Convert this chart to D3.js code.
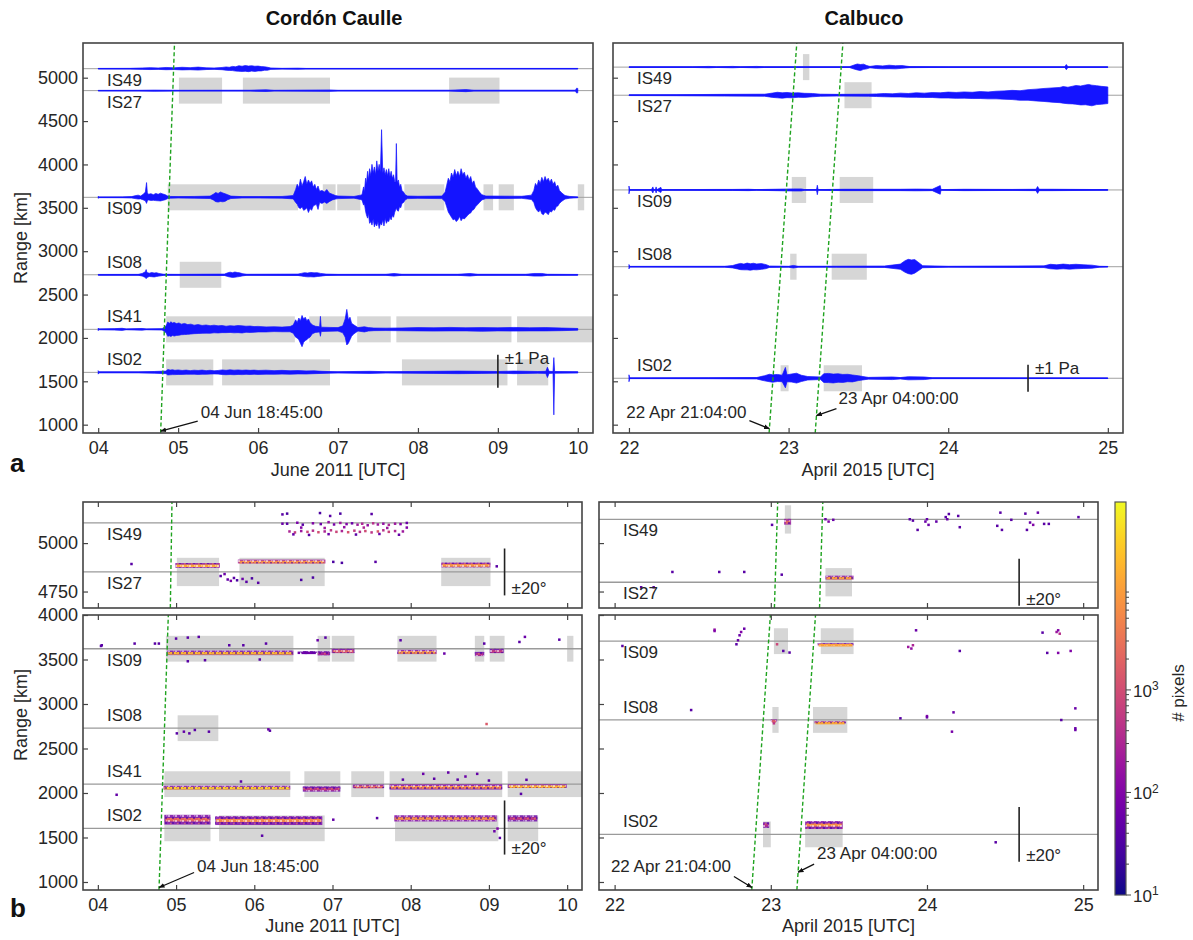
<!DOCTYPE html>
<html><head><meta charset="utf-8">
<script src="https://cdn.jsdelivr.net/npm/d3@7"></script>
<style>
html,body{margin:0;padding:0;background:#fff;}
svg text{font-family:"Liberation Sans",Arial,Helvetica,sans-serif;}
</style></head>
<body><svg id="fig" width="1193" height="940"></svg>
<script>
// ================= DATA =================
const caulleStations=["IS49","IS27","IS09","IS08","IS41","IS02"];
const caulleRanges=[5104,4851,3621,2728,2099,1603];
const calbucoStations=["IS49","IS27","IS09","IS08","IS02"];
const calbucoRanges=[5122,4798,3706,2821,1535];
const caulleDays=[4,5,6,7,8,9,10];
const calbucoDays=[22,23,24,25];
const caulleDomain=[3.81,10.19];
const calbucoDomain=[21.9,25.095];
const rangeTicksA=[1000,1500,2000,2500,3000,3500,4000,4500,5000];
const rangeTicksBUpper=[4750,5000];
const rangeTicksBLower=[1000,1500,2000,2500,3000,3500,4000];
const aRangeDomain=[904,5400];
const bUpperDomain=[4665,5212];
const bLowerDomain=[910,4000];
const caulleOnsets=[4.78125];            // 04 Jun 18:45:00
const calbucoOnsets=[22.87778,23.16667]; // 22 Apr 21:04:00, 23 Apr 04:00:00
const celerityKmS=0.30;
const cbarDomain=[10,68000];
const cbarLabels=[10,100,1000];

// analysis windows [station, start day, end day]
const caulleWindows=[
 ["IS27",5.01,5.55],["IS27",5.81,6.90],["IS27",8.39,9.02],
 ["IS09",4.87,6.50],["IS09",6.81,6.97],["IS09",6.99,7.28],["IS09",7.83,8.33],["IS09",8.82,8.94],["IS09",9.01,9.20],["IS09",10.0,10.08],
 ["IS08",5.02,5.54],
 ["IS41",4.85,6.46],["IS41",6.64,7.10],["IS41",7.24,7.66],["IS41",7.73,9.17],["IS41",9.24,10.25],
 ["IS02",4.85,5.44],["IS02",5.55,6.90],["IS02",7.80,9.12],["IS02",9.24,9.63]];
const calbucoWindows=[
 ["IS49",23.09,23.13],["IS27",23.35,23.52],
 ["IS09",23.02,23.11],["IS09",23.32,23.53],
 ["IS08",23.01,23.05],["IS08",23.27,23.49],
 ["IS02",22.95,23.00],["IS02",23.22,23.46]];

// waveform envelopes [day, up(km), down(km)]
const waveC_IS49=[[4.0,3,3],[4.4,4,4],[4.55,8,8],[4.65,12,10],[4.75,8,8],[4.85,14,12],[4.95,10,10],[5.05,16,14],[5.15,12,12],[5.25,18,16],[5.35,10,10],[5.45,8,8],[5.55,14,12],[5.6,20,18],[5.64,16,20],[5.68,26,22],[5.72,22,28],[5.76,34,30],[5.8,28,32],[5.84,36,30],[5.88,30,34],[5.92,34,28],[5.96,28,32],[6.0,30,26],[6.04,24,26],[6.08,22,18],[6.12,16,18],[6.16,8,8],[6.3,4,4],[6.5,6,6],[6.6,3,3],[8.5,3,3],[10.0,3,3]];
const waveC_IS27=[[4.0,3,3],[4.5,4,4],[4.7,6,6],[5.0,4,4],[5.9,5,5],[6.1,10,10],[6.2,4,4],[6.9,8,8],[7.0,4,4],[8.4,5,5],[8.6,12,12],[8.7,5,5],[9.97,5,5],[9.985,28,28],[10.0,25,25]];
const waveC_IS09=[[4.0,12,12],[4.01,4,4],[4.3,5,5],[4.42,8,8],[4.46,18,14],[4.5,25,20],[4.53,15,18],[4.56,32,28],[4.59,60,40],[4.605,170,70],[4.615,50,40],[4.63,35,30],[4.66,42,36],[4.69,30,34],[4.72,45,38],[4.75,35,40],[4.78,48,42],[4.81,38,35],[4.84,30,28],[4.87,15,14],[4.9,10,10],[5.0,8,8],[5.2,10,10],[5.4,14,14],[5.44,35,30],[5.47,55,50],[5.5,45,55],[5.53,62,48],[5.56,50,52],[5.59,40,45],[5.62,30,28],[5.66,14,14],[5.8,8,8],[6.0,8,8],[6.3,10,10],[6.44,20,18],[6.47,90,60],[6.49,150,80],[6.51,110,120],[6.53,210,130],[6.55,130,110],[6.57,180,150],[6.59,240,140],[6.61,150,120],[6.63,200,175],[6.65,160,130],[6.67,190,150],[6.69,120,100],[6.71,150,90],[6.73,90,80],[6.75,130,140],[6.77,70,60],[6.8,80,70],[6.83,60,55],[6.86,90,70],[6.89,50,50],[6.93,35,30],[6.97,20,20],[7.0,15,15],[7.2,10,10],[7.28,25,25],
 [7.30,30,30],[7.32,120,90],[7.33,60,70],[7.345,220,160],[7.355,150,200],[7.37,300,240],[7.38,200,180],[7.395,330,300],[7.41,250,280],[7.425,380,320],[7.44,280,250],[7.455,350,340],[7.47,260,300],[7.485,420,330],[7.50,300,280],[7.515,380,360],[7.53,290,300],[7.545,780,320],[7.56,280,260],[7.575,340,330],[7.59,260,240],[7.605,320,300],[7.62,250,270],[7.635,330,280],[7.65,240,230],[7.665,300,260],[7.68,220,210],[7.695,260,230],[7.71,180,170],[7.72,180,150],[7.73,620,120],[7.74,170,150],[7.755,200,160],[7.77,120,110],[7.785,150,120],[7.80,80,70],[7.82,60,60],[7.84,30,30],[7.87,15,15],
 [8.0,12,12],[8.3,15,15],[8.34,60,50],[8.36,140,110],[8.38,220,170],[8.40,180,200],[8.42,280,230],[8.44,230,260],[8.46,320,250],[8.48,250,280],[8.50,300,260],[8.52,240,220],[8.54,330,270],[8.56,260,240],[8.58,290,250],[8.60,220,230],[8.62,260,210],[8.64,200,190],[8.66,240,180],[8.68,160,150],[8.70,190,140],[8.72,120,110],[8.74,100,90],[8.77,60,60],[8.8,30,30],[8.85,15,15],
 [9.3,12,12],[9.42,25,25],[9.45,80,60],[9.47,160,120],[9.49,130,150],[9.51,200,170],[9.53,160,140],[9.55,230,190],[9.57,180,200],[9.59,240,170],[9.61,190,180],[9.63,220,200],[9.65,170,160],[9.67,210,170],[9.69,150,140],[9.71,180,150],[9.73,120,110],[9.75,140,100],[9.77,80,70],[9.8,50,45],[9.84,20,20],[9.9,10,10],[10.0,5,5]];
const waveC_IS08=[[4.0,4,4],[4.5,5,5],[4.55,15,15],[4.59,35,30],[4.6,60,45],[4.61,25,30],[4.64,18,20],[4.67,26,22],[4.7,20,25],[4.73,24,20],[4.76,15,15],[4.82,6,6],[5.0,5,5],[5.58,8,8],[5.62,22,20],[5.65,30,26],[5.68,24,30],[5.71,32,28],[5.74,26,24],[5.77,22,20],[5.81,12,12],[5.86,6,6],[6.5,8,8],[6.54,16,14],[6.58,24,20],[6.62,20,24],[6.66,27,23],[6.7,22,25],[6.74,24,20],[6.78,16,16],[6.85,8,8],[7.0,5,5],[7.6,6,6],[7.7,15,15],[7.8,6,6],[8.5,6,6],[8.65,15,15],[8.75,6,6],[9.35,6,6],[9.45,15,15],[9.55,15,15],[9.62,6,6],[10.0,4,4]];
const waveC_IS41=[[4.0,15,15],[4.01,5,5],[4.2,8,8],[4.3,12,12],[4.35,5,5],[4.55,10,10],[4.6,5,5],[4.8,8,8],[4.85,40,40],[4.87,85,80],[4.89,70,75],[4.91,88,82],[4.93,72,70],[4.95,80,78],[4.98,66,70],[5.01,74,68],[5.04,60,62],[5.08,68,60],[5.12,55,58],[5.16,60,54],[5.2,48,50],[5.25,55,48],[5.3,45,46],[5.35,50,44],[5.4,42,45],[5.45,48,40],[5.5,40,42],[5.55,44,38],[5.6,36,38],[5.65,42,36],[5.7,38,40],[5.75,44,38],[5.8,40,42],[5.85,36,34],[5.9,38,36],[5.95,32,34],[6.0,34,30],[6.1,28,30],[6.2,30,26],[6.3,26,28],[6.4,32,28],[6.44,50,45],[6.47,110,90],[6.49,80,100],[6.51,130,120],[6.53,100,160],[6.55,160,200],[6.57,120,150],[6.59,140,130],[6.61,100,120],[6.63,120,100],[6.65,80,90],[6.68,50,50],[6.72,35,35],[6.77,30,30],[6.78,150,80],[6.79,25,25],[6.9,22,22],[7.0,20,20],[7.06,40,40],[7.09,120,90],[7.11,230,180],[7.13,110,160],[7.15,140,120],[7.17,70,80],[7.2,50,50],[7.25,20,20],[7.33,30,30],[7.38,20,20],[7.45,15,15],[7.6,14,14],[7.8,16,16],[8.0,20,18],[8.2,18,20],[8.4,22,18],[8.6,18,18],[8.8,20,22],[9.0,18,18],[9.2,22,20],[9.4,18,18],[9.6,20,18],[9.8,15,15],[10.0,10,10]];
const waveC_IS02=[[4.0,20,20],[4.01,6,6],[4.5,6,6],[4.7,10,10],[4.85,15,15],[4.87,34,30],[4.9,26,28],[4.93,30,26],[4.96,24,26],[5.0,28,24],[5.05,22,24],[5.1,26,22],[5.15,20,22],[5.2,25,21],[5.25,22,24],[5.3,26,22],[5.35,20,22],[5.4,24,20],[5.45,18,18],[5.5,22,20],[5.55,28,25],[5.6,24,27],[5.65,29,25],[5.7,25,27],[5.75,28,24],[5.8,24,26],[5.85,27,23],[5.9,23,25],[5.95,26,22],[6.0,22,24],[6.1,25,21],[6.2,20,22],[6.3,23,20],[6.4,19,21],[6.5,21,18],[6.6,17,19],[6.7,18,15],[6.8,12,12],[6.9,9,9],[7.0,8,8],[7.4,12,12],[7.6,8,8],[7.9,10,10],[8.2,12,12],[8.5,15,15],[8.8,12,12],[9.0,10,10],[9.2,15,15],[9.5,10,10],[9.6,12,12],[9.62,60,60],[9.64,12,12],[9.69,10,10],[9.7,170,490],[9.71,10,10],[10.0,8,8]];
const waveK_IS49=[[22.0,3,3],[22.4,4,4],[22.5,8,8],[22.55,4,4],[22.65,8,8],[22.7,4,4],[22.8,8,8],[22.85,4,4],[23.38,4,4],[23.41,24,22],[23.43,36,32],[23.45,30,40],[23.47,34,26],[23.49,18,20],[23.51,8,8],[23.55,18,16],[23.59,14,20],[23.63,22,18],[23.67,16,20],[23.71,18,14],[23.76,6,6],[24.0,3,3],[24.73,3,3],[24.74,30,30],[24.75,3,3],[25.0,3,3]];
const waveK_IS27=[[22.0,4,4],[22.3,6,6],[22.6,10,10],[22.85,12,12],[22.9,25,25],[22.93,34,30],[22.96,28,34],[22.99,32,28],[23.02,26,30],[23.06,28,24],[23.1,22,25],[23.15,20,18],[23.2,12,12],[23.3,10,10],[23.5,12,12],[23.55,15,15],[23.6,20,18],[23.65,16,20],[23.7,24,20],[23.75,20,24],[23.8,28,24],[23.85,24,26],[23.9,30,26],[23.95,28,32],[24.0,36,32],[24.05,32,36],[24.1,38,34],[24.15,34,38],[24.2,42,38],[24.25,38,42],[24.3,46,42],[24.35,50,46],[24.4,56,50],[24.45,52,58],[24.5,64,58],[24.55,70,66],[24.6,78,72],[24.65,84,80],[24.7,90,86],[24.72,100,92],[24.75,92,98],[24.78,104,100],[24.8,112,104],[24.83,106,112],[24.86,118,110],[24.88,124,116],[24.9,116,122],[24.93,110,108],[24.96,102,104],[25.0,96,96]];
const waveK_IS09=[[22.0,45,45],[22.005,3,3],[22.14,3,3],[22.15,35,35],[22.155,3,3],[22.165,3,3],[22.17,35,35],[22.175,3,3],[22.2,30,30],[22.205,3,3],[22.55,6,6],[22.65,6,6],[22.75,8,8],[22.8,4,4],[23.03,12,12],[23.08,12,12],[23.1,4,4],[23.175,4,4],[23.18,55,55],[23.185,4,4],[23.35,8,8],[23.5,8,8],[23.7,8,8],[23.8,10,10],[23.9,8,8],[23.95,50,50],[23.955,4,4],[24.1,8,8],[24.4,6,6],[24.55,8,8],[24.56,40,40],[24.57,8,8],[24.65,8,8],[25.0,4,4]];
const waveK_IS08=[[22.0,25,25],[22.005,4,4],[22.6,5,5],[22.65,14,14],[22.68,30,26],[22.7,38,34],[22.72,30,36],[22.74,42,36],[22.76,34,40],[22.78,40,34],[22.8,32,36],[22.83,36,30],[22.86,24,22],[22.88,8,8],[23.0,5,5],[23.03,15,15],[23.06,5,5],[23.3,6,6],[23.6,8,8],[23.7,30,30],[23.73,70,65],[23.75,85,80],[23.77,78,88],[23.79,82,74],[23.81,55,50],[23.84,12,12],[24.0,5,5],[24.6,10,10],[24.64,28,24],[24.68,22,28],[24.72,30,24],[24.76,24,28],[24.8,28,24],[24.85,22,20],[24.9,18,18],[24.95,5,5],[25.0,3,3]];
const waveK_IS02=[[22.0,40,40],[22.005,4,4],[22.1,4,4],[22.5,5,5],[22.8,8,8],[22.85,30,30],[22.88,46,40],[22.9,40,46],[22.93,44,38],[22.96,36,40],[22.98,125,110],[22.99,40,40],[23.02,50,44],[23.05,58,55],[23.08,35,38],[23.12,20,20],[23.2,15,15],[23.22,52,48],[23.25,56,50],[23.28,48,54],[23.31,52,46],[23.34,44,48],[23.37,46,40],[23.4,38,42],[23.44,28,26],[23.5,10,10],[23.65,15,15],[23.7,8,8],[23.75,18,18],[23.85,15,15],[23.9,5,5],[25.0,3,3]];

// detection bands [start, end, centre range km, half width km, edge count, core count]
const caulleBands=[
 [4.99,5.56,4885,12,120,12000],[5.79,6.91,4905,10,200,6000],[8.39,9.02,4887,12,150,8000],
 [4.886,6.50,3575,26,80,20000],[6.59,6.80,3585,10,40,60],[6.81,6.97,3570,24,60,300],[6.99,7.28,3596,24,80,2000],[7.83,8.33,3585,24,100,8000],[8.82,8.94,3562,24,60,400],[9.01,9.19,3596,24,60,600],
 [4.84,6.46,2060,22,100,30000],[6.62,7.10,2045,30,60,500],[7.26,7.66,2075,20,80,2000],[7.73,9.17,2068,30,100,6000],[9.24,9.996,2078,20,100,15000],
 [4.85,5.44,1700,55,80,2000],[5.50,6.87,1690,50,80,5000],[7.79,9.10,1715,35,100,8000],[9.24,9.62,1715,35,60,600]];
const calbucoBands=[
 [23.085,23.13,5110,15,150,2000],[23.35,23.53,4822,10,100,10000],
 [23.30,23.53,3670,12,100,10000],[23.0,23.04,2815,12,150,1500],[23.28,23.48,2795,12,150,12000],
 [22.95,22.99,1640,30,80,400],[23.22,23.46,1640,45,100,6000]];

// isolated detections [day, range km, # pixels]
const caullePoints=[
 [4.43,4892,40],[5.57,4830,40],[5.62,4840,60],[5.66,4812,50],[5.70,4805,80],[5.74,4820,40],[5.78,4808,30],[5.85,4815,60],[5.90,4800,40],[5.97,4818,30],[6.05,4795,40],[6.60,4810,30],[6.75,4822,30],[7.01,4903,30],[7.12,4898,30],[7.55,4903,40],[9.10,4880,40],
 [6.36,5148,40],[6.42,5152,30],[6.84,5155,30],[6.97,5140,40],[7.10,5152,30],[7.50,5150,40],
 [6.36,5100,60],[6.42,5100,40],[6.55,5105,80],[6.62,5095,40],[6.75,5102,100],[6.85,5098,60],[6.95,5108,150],[7.02,5096,80],[7.10,5104,200],[7.18,5098,100],[7.25,5102,60],[7.32,5095,200],[7.38,5100,300],[7.45,5092,150],[7.52,5102,400],[7.58,5096,200],[7.65,5100,150],[7.72,5094,300],[7.80,5100,200],[7.87,5098,100],[7.95,5104,60],
 [6.45,5060,300],[6.52,5055,600],[6.60,5062,200],[6.68,5058,800],[6.75,5064,400],[6.82,5056,1000],[6.90,5060,300],[6.98,5066,500],[7.05,5058,800],[7.12,5062,300],[7.20,5056,1200],[7.28,5064,600],[7.35,5058,400],[7.42,5062,900],[7.50,5055,500],[7.58,5060,1500],[7.65,5066,400],[7.72,5058,700],[7.80,5062,300],[7.90,5060,200],
 [6.50,5045,50],[6.70,5042,40],[6.95,5046,60],[7.30,5044,40],[7.60,5047,60],[7.85,5043,50],
 [6.60,5080,100],[6.90,5078,200],[7.15,5082,150],[7.40,5080,300],[7.70,5078,200],[7.95,5080,100],
 [4.04,3652,40],[4.05,3660,40],[4.47,3679,40],[4.73,3679,40],[4.78,3679,40],[5.00,3735,40],[5.15,3746,40],[5.29,3754,40],[5.68,3660,40],[5.86,3660,40],[6.15,3679,40],[5.15,3480,40],[5.37,3492,40],[6.07,3500,40],[9.39,3697,40],[9.46,3754,60],[9.90,3723,40],[6.81,3716,60],[6.91,3746,40],[7.87,3716,40],[8.94,3679,40],[8.43,3567,60],[6.57,3575,60],[6.66,3575,60],
 [5.01,2670,40],[5.10,2689,50],[5.17,2670,40],[5.24,2708,40],[5.42,2689,40],[6.18,2715,60],[6.20,2700,40],[8.97,2775,1500],
 [4.24,1980,50],[5.83,2129,40],[8.16,2215,60],[8.48,2230,50],[8.70,2185,60],[8.85,2215,50],[9.48,2148,40],[9.41,1990,40],[7.9,2150,40],[8.3,2160,40],[8.6,2150,40],[9.0,2140,40],
 [7.01,1700,50],[7.57,1718,40],[9.14,1495,40],[6.10,1520,40],[9.11,1600,100],[9.07,1570,60]];
const calbucoPoints=[
 [23.008,5094,40],[23.35,5123,60],[23.37,5111,100],[23.40,5120,60],[23.89,5123,40],[23.91,5116,40],[23.94,5068,40],[23.99,5111,60],[24.0,5123,50],[24.01,5094,60],[24.06,5111,50],[24.12,5134,40],[24.14,5150,40],[24.13,5123,60],[24.20,5140,40],[24.21,5082,40],[24.45,5089,40],[24.47,5157,40],[24.48,5068,40],[24.54,5120,40],[24.63,5152,40],[24.64,5068,40],[24.66,5106,60],[24.68,5094,100],[24.71,5157,60],[24.75,5099,40],[24.78,5099,40],[24.97,5134,40],
 [22.37,4851,40],[22.67,4851,40],[22.83,4851,40],[23.07,4837,40],[22.17,4772,40],[22.25,4772,40],
 [22.64,3835,150],[22.64,3820,100],[22.83,3846,60],[22.81,3809,100],[22.80,3772,60],[22.79,3716,60],[22.78,3671,40],[23.04,3671,800],[23.08,3596,40],[23.12,3578,40],[23.88,3641,200],[23.91,3660,300],[23.90,3623,150],[23.93,3828,60],[24.21,3596,40],[24.74,3802,40],[24.83,3809,200],[24.85,3790,400],[24.84,3828,100],[24.77,3574,40],[24.84,3574,100],[24.92,3596,100],[22.05,3652,40],
 [22.49,2932,40],[23.02,2783,500],[23.83,2839,40],[24.0,2864,100],[24.0,2850,60],[24.17,2906,60],[24.16,2689,80],[24.86,2820,40],[24.95,2951,60],[24.95,2727,60],[24.95,2708,60],
 [24.44,1446,40]];

// ================= DRAWING =================
const svg=d3.select("#fig");
const defs=svg.append("defs");
const FONT='"Liberation Sans", Arial, Helvetica, sans-serif';
const TXT="#262626";
const BLUE="#1414ff";
const kmPerDay=celerityKmS*86400;
const RREF=900;
const onsetT=(t0,r)=>t0+(r-RREF)/kmPerDay;
const cNorm=d3.scaleLog().domain(cbarDomain).range([0,1]).clamp(true);
const cmap=c=>d3.interpolatePlasma(cNorm(c));

defs.append("marker").attr("id","ah").attr("viewBox","0 0 10 10").attr("refX",9).attr("refY",5)
 .attr("markerWidth",6).attr("markerHeight",6).attr("orient","auto").attr("markerUnits","userSpaceOnUse")
 .append("path").attr("d","M0,1L10,5L0,9z").attr("fill","#111");

const sp=defs.append("pattern").attr("id","speck").attr("patternUnits","userSpaceOnUse").attr("width",7).attr("height",5);
[[0,0,2,2,"#ffffff",0.55],[4,2,2,2,"#4b03a1",0.6],[2,3,1.5,1.5,"#f89540",0.5],[5,0,1.5,1.5,"#ffffff",0.4],[1,2,1.2,1.2,"#9c179e",0.5]]
 .forEach(s=>sp.append("rect").attr("x",s[0]).attr("y",s[1]).attr("width",s[2]).attr("height",s[3]).attr("fill",s[4]).attr("opacity",s[5]));

let clipN=0;
function clip(b){const id="clip"+(clipN++);defs.append("clipPath").attr("id",id).append("rect")
 .attr("x",b.x0).attr("y",b.y0).attr("width",b.x1-b.x0).attr("height",b.y1-b.y0);return "url(#"+id+")";}

function axes(g,x,y,b,xTicks,yTicks,opt){
 const fmt2=d3.format("02d");
 g.append("g").attr("transform",`translate(0,${b.y1})`)
  .call(d3.axisBottom(x).tickValues(xTicks).tickSizeInner(-5).tickSizeOuter(0).tickPadding(8).tickFormat(opt.xLabels?fmt2:()=>""));
 if(opt.topTicks) g.append("g").attr("transform",`translate(0,${b.y0})`)
  .call(d3.axisTop(x).tickValues(xTicks).tickSizeInner(-5).tickSizeOuter(0).tickFormat(()=>""));
 g.append("g").attr("transform",`translate(${b.x0},0)`)
  .call(d3.axisLeft(y).tickValues(yTicks).tickSizeInner(-5).tickSizeOuter(0).tickPadding(5).tickFormat(opt.yLabels?d3.format("d"):()=>""));
 g.selectAll(".domain").remove();
 g.selectAll(".tick line").attr("stroke","#444").attr("stroke-width",1.2);
 g.selectAll(".tick text").attr("font-size",18).attr("font-family",FONT).attr("fill",TXT);
 g.append("rect").attr("x",b.x0).attr("y",b.y0).attr("width",b.x1-b.x0).attr("height",b.y1-b.y0)
  .attr("fill","none").attr("stroke","#444").attr("stroke-width",1.6);
}

function stationLabels(g,b,y,stations,ranges){
 const below={IS49:1,IS27:1,IS09:1};
 stations.forEach((s,i)=>{
  const yy=y(ranges[i]);
  if(yy<b.y0-2||yy>b.y1+2) return;
  g.append("text").attr("x",b.x0+24).attr("y",yy+(below[s]?11:-13)).attr("dy","0.35em")
   .attr("font-size",17).attr("fill",TXT).text(s);
 });
}

function annotate(g,tip,tail,txt,anchor,tdx,tdy){
 g.append("line").attr("x1",tail[0]).attr("y1",tail[1]).attr("x2",tip[0]).attr("y2",tip[1])
  .attr("stroke","#111").attr("stroke-width",1.3).attr("marker-end","url(#ah)");
 g.append("text").attr("x",tail[0]+tdx).attr("y",tail[1]+tdy).attr("dy","0.35em").attr("text-anchor",anchor)
  .attr("font-size",17).attr("fill",TXT).text(txt);
}

function scaleBar(g,x,y,bar,label,labelDy){
 const x0=x(bar[0]);
 g.append("line").attr("x1",x0).attr("x2",x0).attr("y1",y(bar[1]+bar[2])).attr("y2",y(bar[1]-bar[2]))
  .attr("stroke","#222").attr("stroke-width",1.6);
 const ty=labelDy>0?y(bar[1]+bar[2])+labelDy:y(bar[1]-bar[2])+labelDy;
 g.append("text").attr("x",x0+7).attr("y",ty).attr("dy","0.35em").attr("font-size",17).attr("fill",TXT).text(label);
}

function drawA(o){
 const b=o.box;
 const x=d3.scaleLinear().domain(o.xDom).range([b.x0,b.x1]);
 const y=d3.scaleLinear().domain(aRangeDomain).range([b.y1,b.y0]);
 const g=svg.append("g");
 const gc=g.append("g").attr("clip-path",clip(b));
 const rOf=s=>o.ranges[o.stations.indexOf(s)];
 gc.selectAll("rect.win").data(o.windows).join("rect")
  .attr("x",d=>x(d[1])).attr("width",d=>x(d[2])-x(d[1]))
  .attr("y",d=>y(rOf(d[0])+150)).attr("height",d=>y(rOf(d[0])-150)-y(rOf(d[0])+150))
  .attr("fill","#d6d6d6");
 gc.selectAll("line.st").data(o.ranges).join("line")
  .attr("x1",b.x0).attr("x2",b.x1).attr("y1",d=>y(d)).attr("y2",d=>y(d))
  .attr("stroke","#a0a0a0").attr("stroke-width",1);
 o.waves.forEach((w,i)=>{
  const r=o.ranges[i];
  const area=d3.area().x(d=>x(d[0])).y0(d=>y(r-d[2])).y1(d=>y(r+d[1]));
  gc.append("path").attr("d",area(w)).attr("fill",BLUE).attr("stroke",BLUE).attr("stroke-width",0.7);
  gc.append("line").attr("x1",x(w[0][0])).attr("x2",x(w[w.length-1][0])).attr("y1",y(r)).attr("y2",y(r))
   .attr("stroke",BLUE).attr("stroke-width",1.3);
 });
 const ln=d3.line().x(d=>x(d[0])).y(d=>y(d[1]));
 o.onsets.forEach(t0=>{
  gc.append("path").attr("d",ln(aRangeDomain.map(r=>[onsetT(t0,r),r])))
   .attr("fill","none").attr("stroke","#1fa31f").attr("stroke-width",1.4).attr("stroke-dasharray","4,2.5");
 });
 axes(g,x,y,b,o.ticks,rangeTicksA,{xLabels:true,yLabels:o.yLabels,topTicks:false});
 stationLabels(g,b,y,o.stations,o.ranges);
 scaleBar(g,x,y,o.bar,"±1 Pa",3);
 o.annots.forEach(a=>{
  const tip=[x(onsetT(a.t0,a.r)),y(a.r)];
  annotate(g,tip,[tip[0]+a.tail[0],tip[1]+a.tail[1]],a.text,a.anchor,a.tdx,a.tdy);
 });
 g.append("text").attr("x",(b.x0+b.x1)/2).attr("y",b.y1+37).attr("dy","0.35em").attr("text-anchor","middle")
  .attr("font-size",18).attr("fill",TXT).text(o.xlabel);
 g.append("text").attr("x",(b.x0+b.x1)/2-4).attr("y",18).attr("dy","0.35em").attr("text-anchor","middle")
  .attr("font-size",20).attr("font-weight","bold").attr("fill","#111").text(o.title);
}

function drawB(o){
 const subs=[
  {b:{x0:o.x0,x1:o.x1,y0:502,y1:608},dom:bUpperDomain,ticks:rangeTicksBUpper,half:73},
  {b:{x0:o.x0,x1:o.x1,y0:615,y1:890},dom:bLowerDomain,ticks:rangeTicksBLower,half:145}];
 const x=d3.scaleLinear().domain(o.xDom).range([o.x0,o.x1]);
 const rOf=s=>o.ranges[o.stations.indexOf(s)];
 const g=svg.append("g");
 subs.forEach((S,k)=>{
  const b=S.b;
  const y=d3.scaleLinear().domain(S.dom).range([b.y1,b.y0]);
  S.y=y;
  const gc=g.append("g").attr("clip-path",clip(b));
  gc.selectAll("rect.win").data(o.windows).join("rect")
   .attr("x",d=>x(d[1])).attr("width",d=>x(d[2])-x(d[1]))
   .attr("y",d=>y(rOf(d[0])+S.half)).attr("height",d=>y(rOf(d[0])-S.half)-y(rOf(d[0])+S.half))
   .attr("fill","#d6d6d6");
  gc.selectAll("line.st").data(o.ranges).join("line")
   .attr("x1",b.x0).attr("x2",b.x1).attr("y1",d=>y(d)).attr("y2",d=>y(d))
   .attr("stroke","#9a9a9a").attr("stroke-width",1.3);
  gc.selectAll("rect.band").data(o.bands).join("rect")
   .attr("x",d=>x(d[0])).attr("width",d=>x(d[1])-x(d[0]))
   .attr("y",d=>y(d[2]+d[3])).attr("height",d=>y(d[2]-d[3])-y(d[2]+d[3]))
   .attr("fill",d=>cmap(d[4])).attr("opacity",0.8);
  gc.selectAll("rect.core").data(o.bands).join("rect")
   .attr("x",d=>x(d[0])+1).attr("width",d=>Math.max(1,x(d[1])-x(d[0])-2))
   .attr("y",d=>y(d[2]+d[3]*0.35)).attr("height",d=>Math.max(2.5,y(d[2]-d[3]*0.35)-y(d[2]+d[3]*0.35)))
   .attr("fill",d=>cmap(d[5]));
  gc.selectAll("rect.tex").data(o.bands).join("rect")
   .attr("x",d=>x(d[0])).attr("width",d=>x(d[1])-x(d[0]))
   .attr("y",d=>y(d[2]+d[3])).attr("height",d=>y(d[2]-d[3])-y(d[2]+d[3]))
   .attr("fill","url(#speck)");
  gc.selectAll("rect.pt").data(o.points).join("rect")
   .attr("x",d=>x(d[0])-1.25).attr("y",d=>y(d[1])-1.25).attr("width",2.5).attr("height",2.5)
   .attr("fill",d=>cmap(d[2]));
  const ln=d3.line().x(d=>x(d[0])).y(d=>y(d[1]));
  o.onsets.forEach(t0=>{
   gc.append("path").attr("d",ln(S.dom.map(r=>[onsetT(t0,r),r])))
    .attr("fill","none").attr("stroke","#1fa31f").attr("stroke-width",1.4).attr("stroke-dasharray","4,2.5");
  });
  axes(g,x,y,b,o.ticks,S.ticks,{xLabels:k===1,yLabels:o.yLabels,topTicks:true});
  stationLabels(g,b,y,o.stations,o.ranges);
  scaleBar(g,x,y,o.bars[k],"±20°",-7);
 });
 const yl=subs[1].y;
 o.annots.forEach(a=>{
  const tip=[x(onsetT(a.t0,a.r)),yl(a.r)];
  annotate(g,tip,[tip[0]+a.tail[0],tip[1]+a.tail[1]],a.text,a.anchor,a.tdx,a.tdy);
 });
 g.append("text").attr("x",(o.x0+o.x1)/2).attr("y",926).attr("dy","0.35em").attr("text-anchor","middle")
  .attr("font-size",18).attr("fill",TXT).text(o.xlabel);
}

drawA({box:{x0:83,x1:593,y0:43,y1:433},xDom:caulleDomain,ticks:caulleDays,stations:caulleStations,ranges:caulleRanges,
 waves:[waveC_IS49,waveC_IS27,waveC_IS09,waveC_IS08,waveC_IS41,waveC_IS02],windows:caulleWindows,onsets:caulleOnsets,
 yLabels:true,bar:[9.0,1615,190],xlabel:"June 2011 [UTC]",title:"Cordón Caulle",
 annots:[{t0:caulleOnsets[0],r:925,tail:[37,-10],text:"04 Jun 18:45:00",anchor:"start",tdx:3,tdy:-9}]});
drawA({box:{x0:613,x1:1123,y0:43,y1:433},xDom:calbucoDomain,ticks:calbucoDays,stations:calbucoStations,ranges:calbucoRanges,
 waves:[waveK_IS49,waveK_IS27,waveK_IS09,waveK_IS08,waveK_IS02],windows:calbucoWindows,onsets:calbucoOnsets,
 yLabels:false,bar:[24.5,1535,155],xlabel:"April 2015 [UTC]",title:"Calbuco",
 annots:[{t0:calbucoOnsets[0],r:954,tail:[-20,-8],text:"22 Apr 21:04:00",anchor:"end",tdx:-3,tdy:-9},
         {t0:calbucoOnsets[1],r:1104,tail:[20,-7],text:"23 Apr 04:00:00",anchor:"start",tdx:2,tdy:-11}]});
drawB({x0:83,x1:582,xDom:caulleDomain,ticks:caulleDays,stations:caulleStations,ranges:caulleRanges,windows:caulleWindows,
 bands:caulleBands,points:caullePoints,onsets:caulleOnsets,yLabels:true,xlabel:"June 2011 [UTC]",
 bars:[[9.2,4851,121],[9.2,1612,304]],
 annots:[{t0:caulleOnsets[0],r:938,tail:[35,-15],text:"04 Jun 18:45:00",anchor:"start",tdx:3,tdy:-6}]});
drawB({x0:599,x1:1098,xDom:calbucoDomain,ticks:calbucoDays,stations:calbucoStations,ranges:calbucoRanges,windows:calbucoWindows,
 bands:calbucoBands,points:calbucoPoints,onsets:calbucoOnsets,yLabels:false,xlabel:"April 2015 [UTC]",
 bars:[[24.59,4798,121],[24.59,1535,308]],
 annots:[{t0:calbucoOnsets[0],r:938,tail:[-18,-11],text:"22 Apr 21:04:00",anchor:"end",tdx:-3,tdy:-10},
         {t0:calbucoOnsets[1],r:1110,tail:[16,-8],text:"23 Apr 04:00:00",anchor:"start",tdx:3,tdy:-11}]});

[238,715].forEach(cy=>{
 svg.append("text").attr("transform",`translate(21,${cy}) rotate(-90)`).attr("text-anchor","middle").attr("dy","0.35em")
  .attr("font-size",18).attr("fill",TXT).text("Range [km]");
});
svg.append("text").attr("x",10).attr("y",472).attr("font-size",26).attr("font-weight","bold").attr("fill","#111").text("a");
svg.append("text").attr("x",10).attr("y",917).attr("font-size",26).attr("font-weight","bold").attr("fill","#111").text("b");

const cb={x0:1115,x1:1126,y0:502,y1:895};
const cbY=d3.scaleLog().domain(cbarDomain).range([cb.y1,cb.y0]);
const grad=defs.append("linearGradient").attr("id","cbg").attr("x1",0).attr("y1",1).attr("x2",0).attr("y2",0);
d3.range(0,21).forEach(i=>grad.append("stop").attr("offset",i/20).attr("stop-color",d3.interpolatePlasma(i/20)));
svg.append("rect").attr("x",cb.x0).attr("y",cb.y0).attr("width",cb.x1-cb.x0).attr("height",cb.y1-cb.y0)
 .attr("fill","url(#cbg)").attr("stroke","#555").attr("stroke-width",1.2);
cbY.ticks().filter(v=>v<10000).forEach(v=>{
 const major=cbarLabels.includes(v);
 svg.append("line").attr("x1",cb.x1).attr("x2",cb.x1+(major?5:3)).attr("y1",cbY(v)).attr("y2",cbY(v))
  .attr("stroke","#444").attr("stroke-width",1);
});
cbarLabels.forEach(v=>{
 const t=svg.append("text").attr("x",cb.x1+7).attr("y",cbY(v)).attr("dy","0.4em").attr("font-size",17).attr("fill",TXT);
 t.append("tspan").text("10");
 t.append("tspan").attr("dy","-0.55em").attr("font-size",12).text(String(Math.round(Math.log10(v))));
});
svg.append("text").attr("transform",`translate(1178,693) rotate(-90)`).attr("text-anchor","middle").attr("dy","0.35em")
 .attr("font-size",17).attr("fill",TXT).text("# pixels");
</script>
</body></html>
